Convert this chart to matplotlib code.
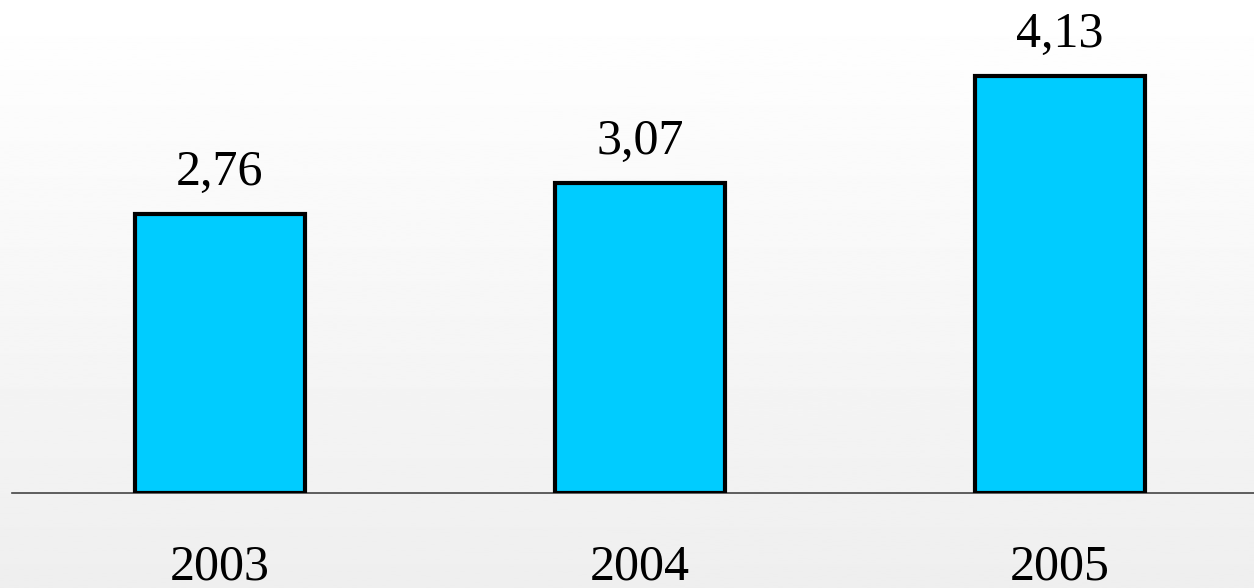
import numpy as np
import matplotlib
matplotlib.use("Agg")
import matplotlib.pyplot as plt

# data
years = ["2003", "2004", "2005"]
values = [2.76, 3.07, 4.13]
value_labels = ["2,76", "3,07", "4,13"]

plt.rcParams['font.family'] = ['Liberation Serif', 'DejaVu Serif']

fig = plt.figure(figsize=(12.54, 5.88), dpi=100)

# background gradient (white at top, light gray at bottom)
bg = fig.add_axes([0, 0, 1, 1], zorder=0)
grad = np.linspace(1.0, 0.935, 256).reshape(-1, 1)
bg.imshow(grad, aspect='auto', cmap='gray', vmin=0, vmax=1, extent=[0, 1, 0, 1])
bg.axis('off')

ax = fig.add_axes([12 / 1254, 95 / 588, 1242 / 1254, 493 / 588], zorder=1)
ax.patch.set_alpha(0)

x = np.arange(len(years))
ax.bar(x, values, width=0.405, color='#00CCFF', edgecolor='black', linewidth=3, zorder=3)

for xi, v, lab in zip(x, values, value_labels):
    ax.annotate(lab, (xi, v), xytext=(0, 21), textcoords='offset points',
                ha='center', va='baseline', fontsize=36)

ax.set_xlim(-0.495, 2.462)
ax.set_ylim(0, 4.88)
ax.set_xticks(x)
ax.set_xticklabels(years, fontsize=36)
ax.tick_params(axis='x', length=0, pad=37)
ax.set_yticks([])
for s in ['top', 'right', 'left']:
    ax.spines[s].set_visible(False)
ax.spines['bottom'].set_color('#444444')
ax.spines['bottom'].set_linewidth(1.2)

plt.savefig("out.png", dpi=100)
plt.close()
